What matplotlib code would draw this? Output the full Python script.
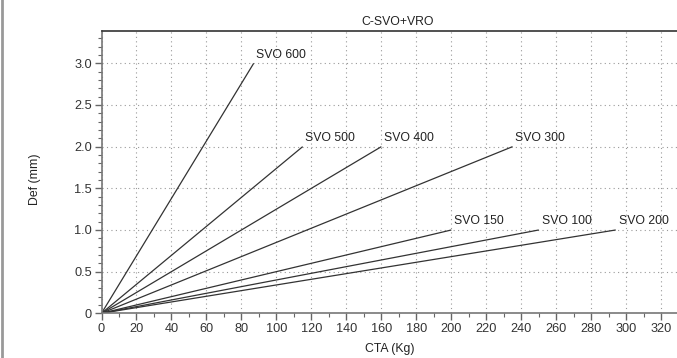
import matplotlib
matplotlib.use("Agg")
import matplotlib.pyplot as plt
from matplotlib.ticker import MultipleLocator, FixedLocator

plt.rcParams['font.family'] = ['Liberation Sans', 'DejaVu Sans']

# series: name, end load (Kg), end deflection (mm)
names = ['SVO 600', 'SVO 500', 'SVO 400', 'SVO 300', 'SVO 150', 'SVO 100', 'SVO 200']
cta_end = [87, 115, 160, 235, 200, 250, 294]
def_end = [3.0, 2.0, 2.0, 2.0, 1.0, 1.0, 1.0]

x_ticks = list(range(0, 321, 20))
y_ticks = [0, 0.5, 1.0, 1.5, 2.0, 2.5, 3.0]
y_labels = ['0', '0.5', '1.0', '1.5', '2.0', '2.5', '3.0']

fig = plt.figure(figsize=(6.77, 3.58), dpi=100)
ax = fig.add_axes([101.5 / 677, 0.1249, 1 - 101.5 / 677, 0.789])

for name, xe, ye in zip(names, cta_end, def_end):
    ax.plot([0, xe], [0, ye], color='#333333', lw=0.9, solid_capstyle='butt')
    ax.annotate(name, (xe, ye), xytext=(2, 2), textcoords='offset points',
                fontsize=8.8, color='#222222', ha='left', va='bottom')

ax.set_xlim(0, 329)
ax.set_ylim(0, 3.39)
ax.xaxis.set_major_locator(FixedLocator(x_ticks))
ax.xaxis.set_minor_locator(MultipleLocator(10))
ax.yaxis.set_major_locator(FixedLocator(y_ticks))
ax.yaxis.set_minor_locator(MultipleLocator(0.1))
ax.set_yticklabels(y_labels)

ax.grid(True, which='major', ls=(0, (1, 3)), color='#999999', lw=0.8)
ax.set_axisbelow(True)

ax.tick_params(which='major', direction='out', length=5, width=1, color='#666666',
               labelsize=9.2, labelcolor='#333333', pad=2)
ax.tick_params(which='minor', direction='out', length=3, width=0.8, color='#666666')

for s in ['left', 'bottom']:
    ax.spines[s].set_color('#777777')
    ax.spines[s].set_linewidth(1.2)
ax.spines['top'].set_color('#333333')
ax.spines['top'].set_linewidth(1.2)
ax.spines['right'].set_visible(False)

fig.text(398 / 677, 1 - 22 / 358, 'C-SVO+VRO', ha='center', va='center', fontsize=8.8, color='#222222')
fig.text(390 / 677, 1 - 349 / 358, 'CTA (Kg)', ha='center', va='center', fontsize=8.8, color='#222222')
fig.text(35 / 677, 0.5, 'Def (mm)', ha='center', va='center', rotation=90, fontsize=8.8, color='#222222')

# left frame border
fig.add_artist(plt.Line2D([1.5 / 677, 1.5 / 677], [0, 1], transform=fig.transFigure,
                          color='#999999', lw=2))

fig.savefig('out.png', dpi=100)
